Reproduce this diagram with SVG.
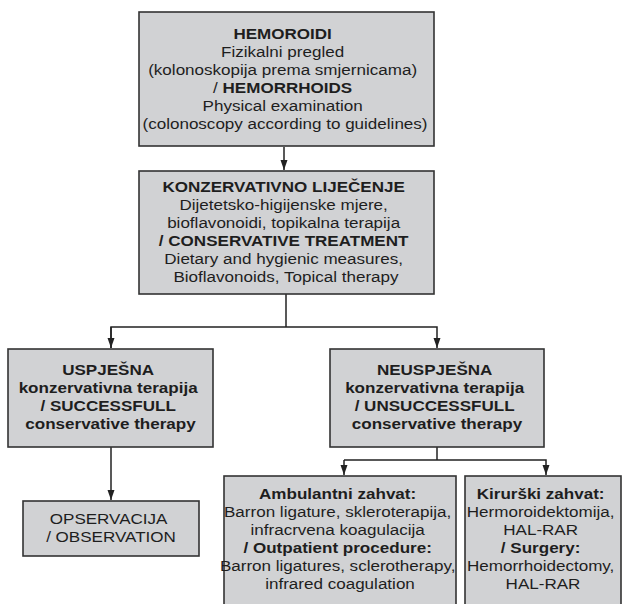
<svg xmlns="http://www.w3.org/2000/svg" width="622" height="604" viewBox="0 0 622 604">
<defs>
<marker id="ah" markerUnits="userSpaceOnUse" markerWidth="10" markerHeight="10" viewBox="0 0 10 10" refX="10" refY="5" orient="auto">
<path d="M0,1.5 L10,5 L0,8.5 Z" fill="#222"/>
</marker>
</defs>
<style>
.box{fill:#d1d2d4;stroke:#333;stroke-width:1.6}
.t{font-family:"Liberation Sans",Arial,sans-serif;font-size:15.5px;fill:#1e1e1e;text-anchor:middle}
.b{font-weight:bold}
.ln{fill:none;stroke:#222;stroke-width:1.5}
</style>
<rect width="622" height="604" fill="#ffffff"/>
<g id="connectors">
<line class="ln" x1="284" y1="147" x2="284" y2="170" marker-end="url(#ah)"/>
<polyline class="ln" points="286,294 286,327"/>
<polyline class="ln" points="111,348 111,327 437,327 437,348" marker-end="url(#ah)"/>
<line class="ln" x1="111" y1="327" x2="111" y2="348" marker-end="url(#ah)"/>
<line class="ln" x1="111" y1="447" x2="111" y2="500" marker-end="url(#ah)"/>
<polyline class="ln" points="437,447 437,460"/>
<polyline class="ln" points="344,460 546,460 546,475" marker-end="url(#ah)"/>
<line class="ln" x1="344" y1="460" x2="344" y2="475" marker-end="url(#ah)"/>
</g>
<g id="hemoroidi">
<rect class="box" x="139" y="12" width="295" height="134"/>
<text class="t" transform="translate(285 0) scale(1.1 1)">
<tspan class="b" x="0" y="39">HEMOROIDI</tspan>
<tspan x="0" y="57">Fizikalni pregled</tspan>
<tspan x="0" y="75">(kolonoskopija prema smjernicama)</tspan>
<tspan x="0" y="93">/ <tspan class="b">HEMORRHOIDS</tspan></tspan>
<tspan x="0" y="111">Physical examination</tspan>
<tspan x="0" y="129">(colonoscopy according to guidelines)</tspan>
</text>
</g>
<g id="konzervativno">
<rect class="box" x="139" y="171" width="295" height="123"/>
<text class="t" transform="translate(286 0) scale(1.1 1)">
<tspan class="b" x="0" y="192">KONZERVATIVNO LIJEČENJE</tspan>
<tspan x="0" y="210">Dijetetsko-higijenske mjere,</tspan>
<tspan x="0" y="228">bioflavonoidi, topikalna terapija</tspan>
<tspan class="b" x="0" y="246">/ CONSERVATIVE TREATMENT</tspan>
<tspan x="0" y="264">Dietary and hygienic measures,</tspan>
<tspan x="0" y="282">Bioflavonoids, Topical therapy</tspan>
</text>
</g>
<g id="uspjesna">
<rect class="box" x="8" y="349" width="205" height="98"/>
<text class="t b" transform="translate(110.5 0) scale(1.1 1)">
<tspan x="0" y="375">USPJEŠNA</tspan>
<tspan x="0" y="393">konzervativna terapija</tspan>
<tspan x="0" y="411">/ SUCCESSFULL</tspan>
<tspan x="0" y="429">conservative therapy</tspan>
</text>
</g>
<g id="neuspjesna">
<rect class="box" x="330" y="349" width="214" height="98"/>
<text class="t b" transform="translate(437 0) scale(1.1 1)">
<tspan x="0" y="375">NEUSPJEŠNA</tspan>
<tspan x="0" y="393">konzervativna terapija</tspan>
<tspan x="0" y="411">/ UNSUCCESSFULL</tspan>
<tspan x="0" y="429">conservative therapy</tspan>
</text>
</g>
<g id="opservacija">
<rect class="box" x="23" y="501" width="176" height="55"/>
<text class="t" transform="translate(111 0) scale(1.1 1)">
<tspan x="0" y="524">OPSERVACIJA</tspan>
<tspan x="0" y="542">/ OBSERVATION</tspan>
</text>
</g>
<g id="ambulantni">
<rect class="box" x="224" y="476" width="232" height="140"/>
<text class="t" transform="translate(340 0) scale(1.1 1)">
<tspan class="b" x="0" y="499">Ambulantni zahvat:</tspan>
<tspan x="0" y="517">Barron ligature, skleroterapija,</tspan>
<tspan x="0" y="535">infracrvena koagulacija</tspan>
<tspan class="b" x="0" y="553">/ Outpatient procedure:</tspan>
<tspan x="0" y="571">Barron ligatures, sclerotherapy,</tspan>
<tspan x="0" y="589">infrared coagulation</tspan>
</text>
</g>
<g id="kirurski">
<rect class="box" x="465" y="476" width="156" height="140"/>
<text class="t" transform="translate(543 0) scale(1.1 1)">
<tspan class="b" x="0" y="499">Kirurški zahvat:</tspan>
<tspan x="0" y="517">Hermoroidektomija,</tspan>
<tspan x="0" y="535">HAL-RAR</tspan>
<tspan class="b" x="0" y="553">/ Surgery:</tspan>
<tspan x="0" y="571">Hemorrhoidectomy,</tspan>
<tspan x="0" y="589">HAL-RAR</tspan>
</text>
</g>
</svg>
